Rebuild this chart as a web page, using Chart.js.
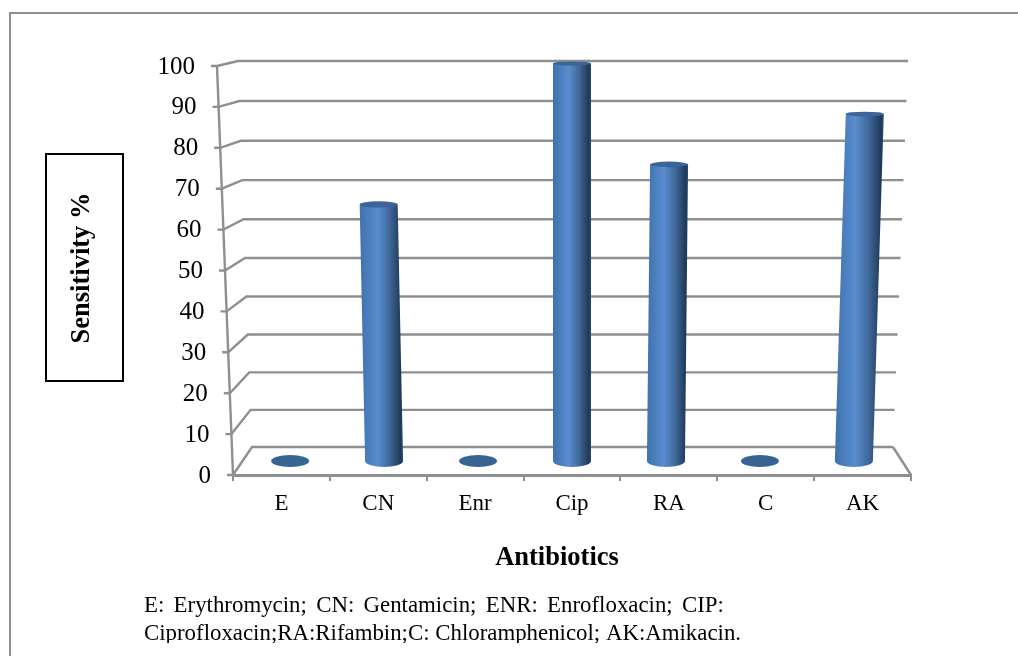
<!DOCTYPE html>
<html lang="en">
<head>
    <meta charset="UTF-8">
    <title>Sensitivity</title>
    <script src="https://cdn.jsdelivr.net/npm/chart.js@4.4.0/dist/chart.umd.js"></script>
    <style>
        html, body { margin: 0; padding: 0; background: #fff; }
        canvas { display: block; }
    </style>
</head>
<body>
    <canvas id="myChart" width="1018" height="656"></canvas>
    <script>
        const categories = ['E', 'CN', 'Enr', 'Cip', 'RA', 'C', 'AK'];
        const sensitivity = [0, 65, 0, 100, 75, 0, 87.5];
        const yTicks = [0, 10, 20, 30, 40, 50, 60, 70, 80, 90, 100];
        const xTitle = 'Antibiotics';
        const yTitle = 'Sensitivity %';
        const footnote = [
            'E: Erythromycin; CN: Gentamicin; ENR: Enrofloxacin; CIP:',
            'Ciprofloxacin;RA:Rifambin;C: Chloramphenicol; AK:Amikacin.'
        ];

        const SERIF = '"Liberation Serif", serif';
        const GRID = '#8f8f8f';
        let current = null;

        // back wall of the fake 3d box, a little squeezed towards the floor
        function backY(v) { return 447 - 3.7 * v - 0.0016 * v * v; }
        function backLeft(v) { return 252 - 0.14 * v; }
        function backRight(v) { return 893 + 0.15 * v; }
        function frontX(v) { return 233 - 0.16 * v; }

        // cylinders look like Excel ones: slanted, with elliptic ends
        Chart.BarElement.prototype.draw = function (ctx) {
            const scale = current.scales.y;
            const mid = (current.chartArea.left + current.chartArea.right) / 2;
            const v = scale.getValueForPixel(this.y);
            const r = this.width / 2;
            const baseY = (scale.getPixelForValue(0) + backY(0)) / 2;
            const topY = (scale.getPixelForValue(v) + backY(v)) / 2;
            const x0 = this.x + (mid - this.x) * 0.03;
            const x1 = x0 + (this.x - mid) * v * 0.00043;
            const ry0 = 6;
            const ry1 = 5.2 - 0.032 * v;

            ctx.save();
            if (v < 0.5) {
                ctx.fillStyle = '#386393';
                ctx.beginPath();
                ctx.ellipse(x0, baseY, r, ry0, 0, 0, Math.PI * 2);
                ctx.fill();
                ctx.restore();
                return;
            }
            const g = ctx.createLinearGradient(Math.min(x0, x1) - r, 0, Math.max(x0, x1) + r, 0);
            g.addColorStop(0, '#3f71ad');
            g.addColorStop(0.42, '#588dcf');
            g.addColorStop(0.68, '#41699b');
            g.addColorStop(0.94, '#1f3a58');
            g.addColorStop(1, '#2a4a70');
            ctx.fillStyle = g;
            ctx.beginPath();
            ctx.moveTo(x1 - r, topY);
            ctx.lineTo(x0 - r, baseY);
            ctx.ellipse(x0, baseY, r, ry0, 0, Math.PI, 0, true);
            ctx.lineTo(x1 + r, topY);
            ctx.closePath();
            ctx.fill();
            ctx.fillStyle = '#3a6596';
            ctx.beginPath();
            ctx.ellipse(x1, topY, r, ry1, 0, 0, Math.PI * 2);
            ctx.fill();
            ctx.restore();
        };

        const boxPlugin = {
            id: 'box',
            beforeInit(chart) { current = chart; },
            beforeDatasetsDraw(chart) {
                const ctx = chart.ctx;
                const y = chart.scales.y;
                const area = chart.chartArea;
                ctx.save();
                ctx.strokeStyle = GRID;
                ctx.lineWidth = 2;
                // page frame
                ctx.beginPath();
                ctx.moveTo(10, 656);
                ctx.lineTo(10, 13);
                ctx.lineTo(1018, 13);
                ctx.stroke();
                // walls
                ctx.lineWidth = 2.4;
                yTicks.forEach(v => {
                    const fx = frontX(v);
                    const fy = y.getPixelForValue(v);
                    ctx.beginPath();
                    ctx.moveTo(fx - 6, fy);
                    ctx.lineTo(fx, fy);
                    ctx.lineTo(backLeft(v), backY(v));
                    ctx.lineTo(backRight(v), backY(v));
                    ctx.stroke();
                });
                ctx.beginPath();
                ctx.moveTo(frontX(100), y.getPixelForValue(100));
                ctx.lineTo(frontX(0), y.getPixelForValue(0));
                ctx.stroke();
                // right edge of the floor
                ctx.beginPath();
                ctx.moveTo(backRight(0), backY(0));
                ctx.lineTo(area.right, y.getPixelForValue(0));
                ctx.stroke();
                // y tick labels follow the slanted axis
                ctx.fillStyle = '#000';
                ctx.font = '25px ' + SERIF;
                ctx.textAlign = 'right';
                ctx.textBaseline = 'middle';
                yTicks.forEach(v => {
                    ctx.fillText(String(v), frontX(v) - 22, y.getPixelForValue(v) + 1);
                });
                // x title sits left of the axis centre
                ctx.font = 'bold 26.5px ' + SERIF;
                ctx.textAlign = 'center';
                ctx.textBaseline = 'alphabetic';
                ctx.fillText(xTitle, 557, 565);
                // y title box
                ctx.strokeStyle = '#000';
                ctx.lineWidth = 2;
                ctx.strokeRect(46, 154, 77, 227);
                ctx.translate(89, 268);
                ctx.rotate(-Math.PI / 2);
                ctx.font = 'bold 26.5px ' + SERIF;
                ctx.fillText(yTitle, 0, 0);
                ctx.restore();

                ctx.save();
                ctx.fillStyle = '#000';
                ctx.font = '22.85px ' + SERIF;
                ctx.textBaseline = 'alphabetic';
                ctx.wordSpacing = '3.6px';
                ctx.fillText(footnote[0], 144, 612);
                ctx.wordSpacing = '0px';
                // scan cuts the descenders of the last line
                ctx.beginPath();
                ctx.rect(0, 600, 1018, 43);
                ctx.clip();
                ctx.fillText(footnote[1], 144, 640);
                ctx.restore();
            }
        };

        const ctx = document.getElementById('myChart').getContext('2d');
        const myChart = new Chart(ctx, {
            type: 'bar',
            data: {
                labels: categories,
                datasets: [{
                    label: 'Sensitivity %',
                    data: sensitivity,
                    backgroundColor: '#4f81bd',
                    barThickness: 38,
                    clip: false
                }]
            },
            plugins: [boxPlugin],
            options: {
                responsive: false,
                animation: false,
                devicePixelRatio: 1,
                layout: { padding: { left: 233, right: 107, top: 66, bottom: 0 } },
                plugins: { legend: { display: false }, tooltip: { enabled: false } },
                scales: {
                    x: {
                        afterFit(scale) { scale.height = 181; },
                        border: { color: GRID, width: 3 },
                        grid: { display: true, drawOnChartArea: false, color: GRID, lineWidth: 2, tickLength: 6 },
                        ticks: { color: '#000', font: { family: SERIF, size: 23 }, padding: 9, maxRotation: 0 }
                    },
                    y: {
                        display: false,
                        min: 0,
                        max: 100,
                        afterBuildTicks(scale) { scale.ticks = yTicks.map(v => ({ value: v })); }
                    }
                }
            }
        });
    </script>
</body>
</html>
